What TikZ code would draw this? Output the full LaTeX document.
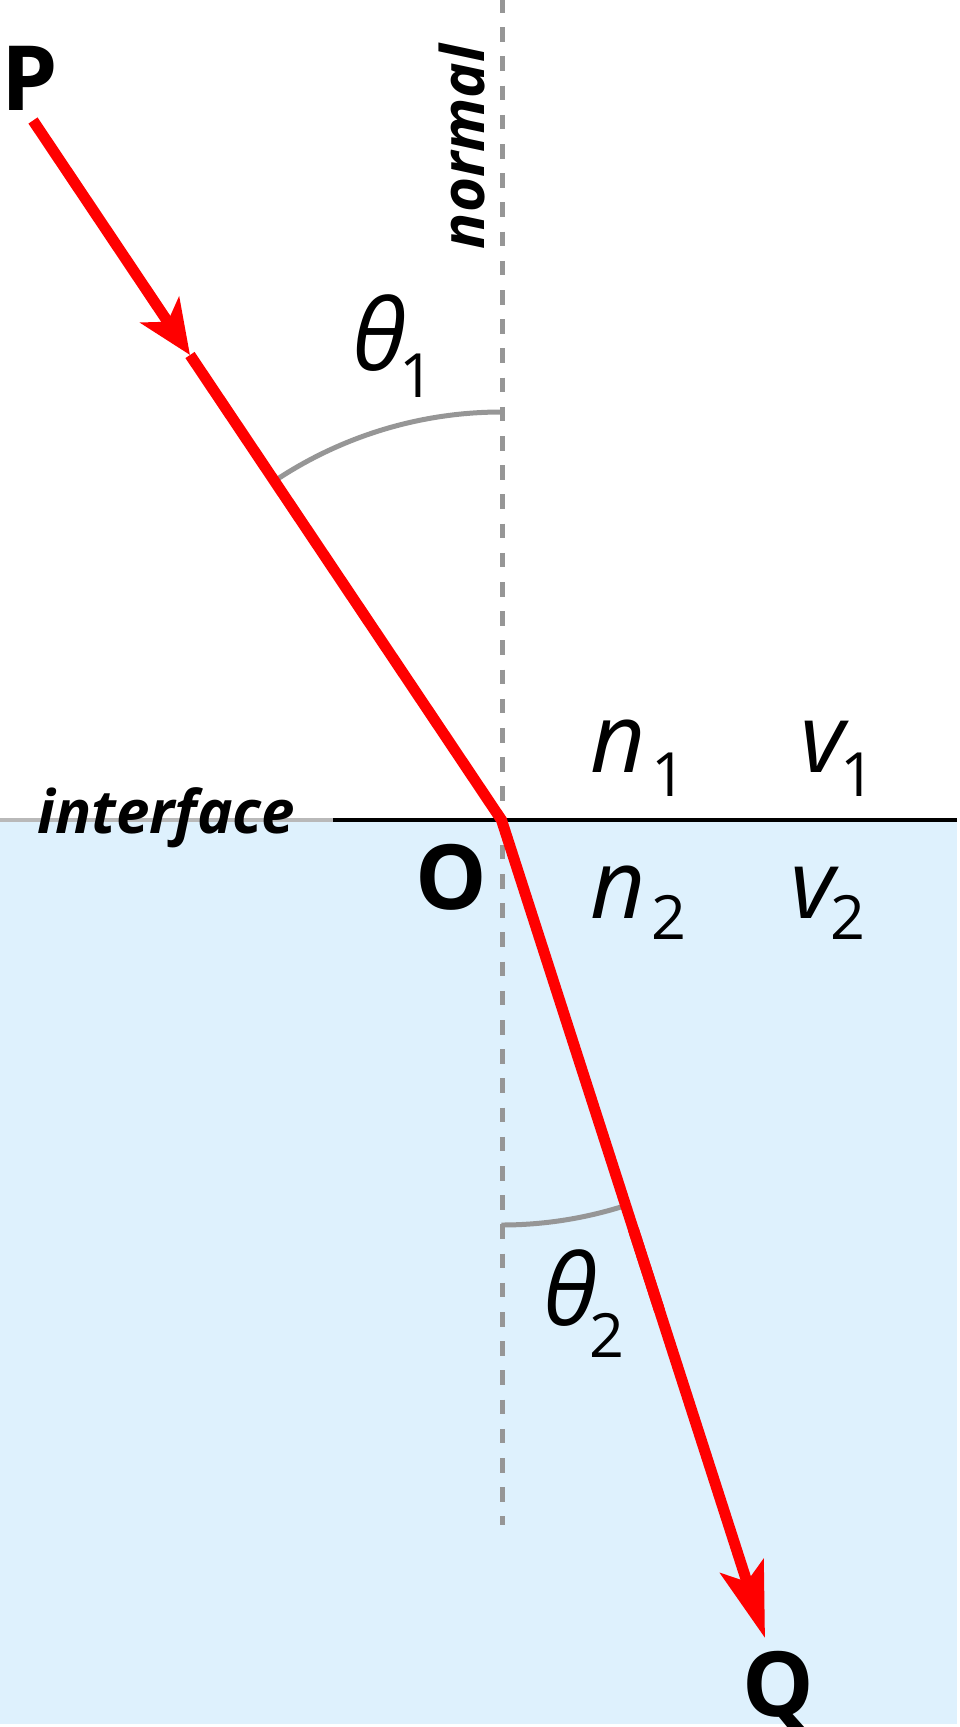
\documentclass[tikz,border=0pt]{standalone}
\usepackage{fontspec}
\setmainfont{Open Sans}
\usetikzlibrary{arrows.meta,calc}
\definecolor{waterblue}{RGB}{222,241,253}
\definecolor{dashgray}{RGB}{150,150,150}
\definecolor{ifgray}{RGB}{185,185,185}
\definecolor{raycol}{RGB}{255,0,0}
\newcommand{\bigfont}{\fontsize{90}{90}\selectfont\bfseries}
\newcommand{\symfont}{\fontsize{96}{96}\selectfont\itshape}
\newcommand{\thfont}{\fontsize{99}{99}\selectfont\itshape}
\newcommand{\subfont}{\fontsize{61}{61}\selectfont\upshape}
\newcommand{\wordfont}{\fontsize{60}{60}\selectfont\bfseries\itshape}
\newcommand{\sub}[2][-24pt]{\raisebox{#1}{\subfont #2}}
\begin{document}
\begin{tikzpicture}[x=1pt,y=1pt,
  ray/.style={draw=raycol,line width=11pt},
  normalline/.style={draw=dashgray,line width=5.5pt,dash pattern=on 14.5pt off 14.7pt,dash phase=2pt},
  anglearc/.style={draw=dashgray,line width=5pt},
  lbl/.style={inner sep=0pt,outer sep=0pt},
  midtip/.style={-{Stealth[length=54pt,width=46pt,inset=14pt]}},
  endtip/.style={-{Stealth[length=75pt,width=45pt,inset=16pt]}}
]
\useasboundingbox (0,0) rectangle (960,-1727);
% water
\fill[waterblue] (0,-820) rectangle (957,-1724);
% interface
\coordinate (IL) at (0,-820);
\coordinate (IM) at (333,-820);
\coordinate (IR) at (957,-820);
\draw[ifgray,line width=4.5pt] (IL) -- (IM);
\draw[black,line width=4.5pt] (IM) -- (IR);
% normal
\coordinate (NT) at (502.5,0);
\coordinate (NB) at (502.5,-1525);
\draw[normalline] (NT) -- (NB);
% points
\coordinate (O) at (501.5,-820);
\coordinate (S) at (33,-120.5);
\coordinate (M) at (190,-355);
\coordinate (E) at (765,-1638);
% angle arcs
\draw[anglearc] ($(O)+(0,408)$) arc[start angle=90,end angle=123.8,radius=408];
\draw[anglearc] ($(O)+(0,-405)$) arc[start angle=270,end angle=287.85,radius=405];
% rays
\draw[ray,midtip] (S) -- (M);
\draw[ray,line join=miter] (M) -- (O) -- ($(O)!0.6!(E)$);
\draw[ray,endtip] ($(O)!0.5!(E)$) -- (E);
% labels
\node[lbl,anchor=base] (P) at (30,-110) {\bigfont P};
\node[lbl,anchor=base] (Q) at (778,-1716) {\bigfont Q};
\node[lbl,anchor=base] (Olab) at (451,-909) {\bigfont O};
\node[lbl,rotate=90,anchor=base] (normal) at (484,-147) {\wordfont normal};
\node[lbl,anchor=base] (interface) at (166.5,-833) {\wordfont interface};
\node[lbl,anchor=base west] (n1) at (590,-772) {\symfont n\hspace{6pt}\sub{1}};
\node[lbl,anchor=base west] (v1) at (800,-772) {\symfont v\hspace{-4pt}\sub{1}};
\node[lbl,anchor=base west] (n2) at (590,-918) {\symfont n\hspace{6pt}\sub[-21pt]{2}};
\node[lbl,anchor=base west] (v2) at (790,-918) {\symfont v\hspace{-4pt}\sub[-21pt]{2}};
\node[lbl,anchor=base west] (t1) at (352,-370) {\thfont θ\hspace{-6pt}\sub[-27pt]{1}};
\node[lbl,anchor=base west] (t2) at (543,-1325) {\thfont θ\hspace{-8pt}\sub[-32pt]{2}};
\end{tikzpicture}
\end{document}
